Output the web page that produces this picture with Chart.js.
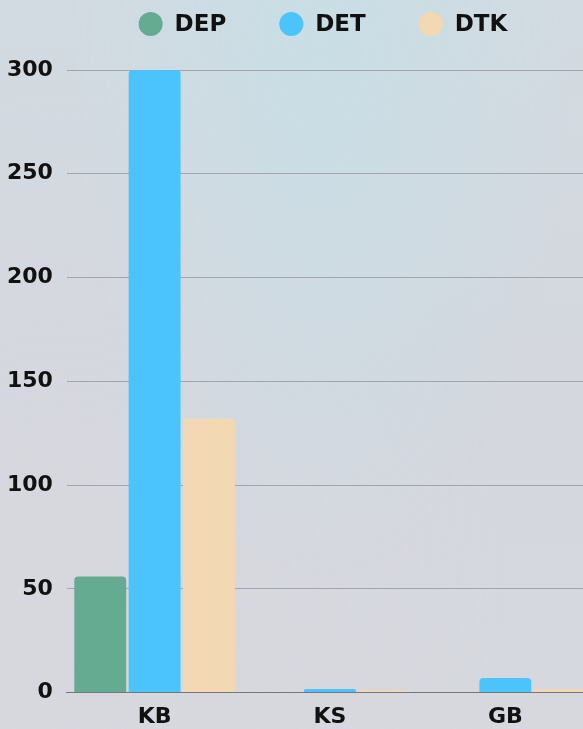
<!DOCTYPE html>
<html>
<head>
<meta charset="utf-8">
<script src="https://cdn.jsdelivr.net/npm/chart.js@4"></script>
<style>
  html, body { margin: 0; padding: 0; overflow: hidden; }
  body {
    width: 583px; height: 729px;
    background:
      radial-gradient(ellipse at 55% 5%, rgba(200,222,230,0.9) 0%, rgba(200,222,230,0) 55%),
      radial-gradient(ellipse at 10% 80%, rgba(215,216,222,0.8) 0%, rgba(215,216,222,0) 60%),
      linear-gradient(180deg, #d2dbe1 0%, #d4d7de 50%, #d6d8de 100%);
  }
  #wrap { position: absolute; left: 0; top: 0; width: 600px; height: 729px; }
</style>
</head>
<body>
<div id="wrap"><canvas id="myChart" width="600" height="729"></canvas></div>
<script>
const categories = ['KB', 'KS', 'GB'];
const seriesNames = ['DEP', 'DET', 'DTK'];
const depValues = [56, 0, 0];
const detValues = [300, 1.7, 7];
const dtkValues = [132, 1, 1.6];
const yTicks = [0, 50, 100, 150, 200, 250, 300];
const niceColors = ['#64ab91', '#4bc4fe', '#f2d8b3'];

const fontFamily = '"DejaVu Sans", sans-serif';
const labelFont = { family: fontFamily, size: 22, weight: 'bold' };

// Legend drawn by hand: round markers with wide spacing between items
const dotLegend = {
    id: 'dotLegend',
    afterDraw(chart) {
        const c = chart.ctx;
        const radius = 12;
        const textGap = 12;
        const itemGap = 53;
        c.save();
        c.font = 'bold 23px ' + fontFamily;
        c.textBaseline = 'middle';
        const items = chart.data.datasets.map(ds => ({
            text: ds.label,
            color: ds.backgroundColor,
            width: 2 * radius + textGap + c.measureText(ds.label).width
        }));
        const total = items.reduce((s, it) => s + it.width, 0) + itemGap * (items.length - 1);
        let x = 323 - total / 2;
        const y = 24;
        items.forEach(it => {
            c.fillStyle = it.color;
            c.beginPath();
            c.arc(x + radius, y, radius, 0, Math.PI * 2);
            c.fill();
            c.fillStyle = '#111';
            c.fillText(it.text, x + 2 * radius + textGap, y + 1);
            x += it.width + itemGap;
        });
        c.restore();
    }
};

const datasets = [depValues, detValues, dtkValues].map((vals, i) => ({
    label: seriesNames[i],
    data: vals,
    backgroundColor: niceColors[i],
    borderRadius: { topLeft: 4, topRight: 4 },
    borderSkipped: 'bottom'
}));

const ctx = document.getElementById('myChart').getContext('2d');
const myChart = new Chart(ctx, {
    type: 'bar',
    data: { labels: categories, datasets: datasets },
    plugins: [dotLegend],
    options: {
        responsive: false,
        animation: false,
        maintainAspectRatio: false,
        layout: { padding: { left: -7, right: 7, top: 70, bottom: -12 } },
        datasets: { bar: { categoryPercentage: 0.93, barPercentage: 0.955 } },
        plugins: {
            legend: { display: false },
            tooltip: { enabled: false }
        },
        scales: {
            x: {
                grid: { display: false, drawTicks: false },
                border: { display: true, color: '#777' },
                ticks: { color: '#111', padding: 11, font: labelFont }
            },
            y: {
                min: 0,
                max: 300,
                afterBuildTicks: axis => { axis.ticks = yTicks.map(v => ({ value: v })); },
                grid: { color: '#a3a7ad', drawTicks: false },
                border: { display: false },
                ticks: { color: '#111', padding: 14, font: labelFont }
            }
        }
    }
});
</script>
</body>
</html>
